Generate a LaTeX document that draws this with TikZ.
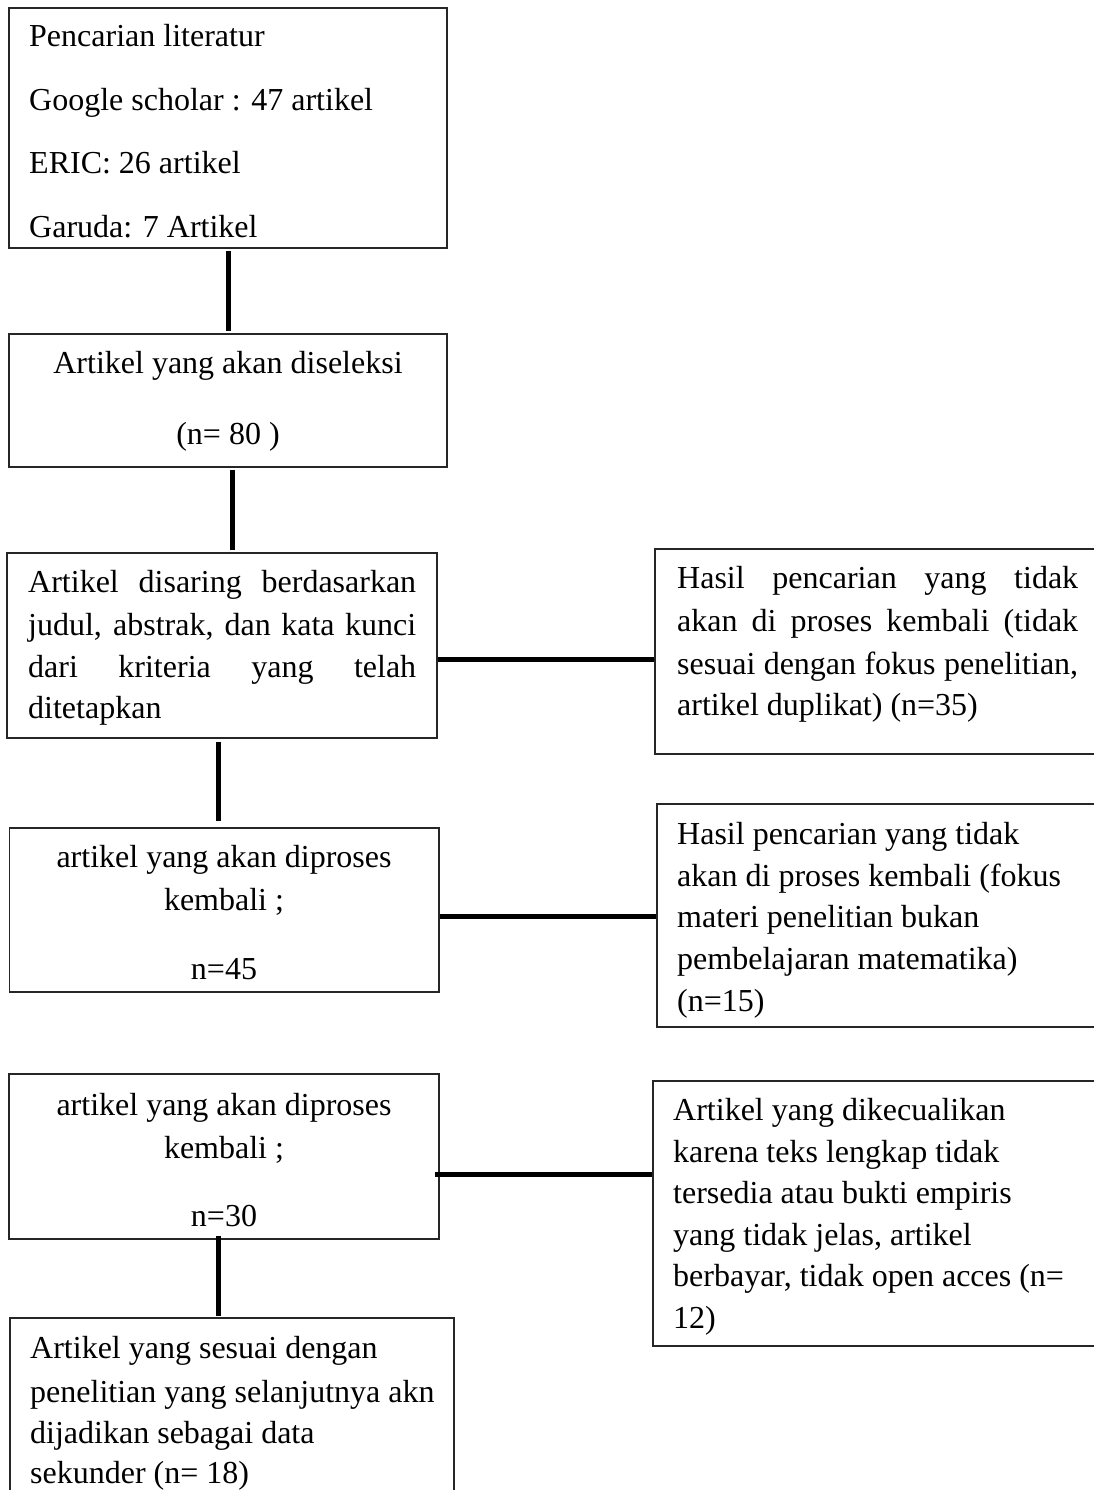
\documentclass[tikz,border=0pt]{standalone}
\usepackage{fontspec}
\setmainfont{Liberation Serif}
\usetikzlibrary{fit,calc}
\begin{document}
\begin{tikzpicture}[x=1pt,y=-1pt,
  box/.style={draw=black!85, line width=1.3pt, inner sep=0pt},
  txt/.style={font=\fontsize{32}{42}\selectfont, inner sep=0pt, anchor=base west, text=black},
  ctxt/.style={font=\fontsize{32}{42}\selectfont, inner sep=0pt, anchor=base, text=black},
  conn/.style={line width=5pt, black}]
\useasboundingbox (0,0) rectangle (1094,1490);
\clip (0,0) rectangle (1094,1490);
\fill[white] (0,0) rectangle (1094,1490);

% boxes
\node[box, fit={(9,8) (447,248)}] (b1) {};
\node[box, fit={(9,334) (447,467)}] (b2) {};
\node[box, fit={(7,553) (437,738)}] (b3) {};
\node[box, fit={(9.5,828) (439,992)}] (b4) {};
\node[box, fit={(9,1074) (439,1239)}] (b5) {};
\node[box, fit={(10,1318) (454,1505)}] (b6) {};
\node[box, fit={(655,549) (1105,754)}] (r1) {};
\node[box, fit={(657,804) (1105,1027)}] (r2) {};
\node[box, fit={(653,1081) (1105,1346)}] (r3) {};

% texts box 1
\node[txt] (b1a) at (29,47) {Pencarian literatur};
\node[txt] (b1b) at (29,111) {Google scholar : 47 artikel};
\node[txt] (b1c) at (29,174) {ERIC: 26 artikel};
\node[txt] (b1d) at (29,237) {Garuda: 7 Artikel};
% box 2
\node[ctxt] (b2a) at (228,373) {Artikel yang akan diseleksi};
\node[ctxt] (b2b) at (228,444) {(n= 80 )};
% box 3
\node[txt] (b3a) at (28,592) {\makebox[388pt][s]{Artikel disaring berdasarkan}};
\node[txt] (b3b) at (28,635) {\makebox[388pt][s]{judul, abstrak, dan kata kunci}};
\node[txt] (b3c) at (28,677) {\makebox[388pt][s]{dari kriteria yang telah}};
\node[txt] (b3d) at (28,718) {ditetapkan};
% box 4
\node[ctxt] (b4a) at (224,867) {artikel yang akan diproses};
\node[ctxt] (b4b) at (224,910) {kembali ;};
\node[ctxt] (b4c) at (224,979) {n=45};
% box 5
\node[ctxt] (b5a) at (224,1115) {artikel yang akan diproses};
\node[ctxt] (b5b) at (224,1158) {kembali ;};
\node[ctxt] (b5c) at (224,1226) {n=30};
% box 6
\node[txt] (b6a) at (30,1358) {Artikel yang sesuai dengan};
\node[txt] (b6b) at (30,1402) {penelitian yang selanjutnya akn};
\node[txt] (b6c) at (30,1443) {dijadikan sebagai data};
\node[txt] (b6d) at (30,1483) {sekunder (n= 18)};
% right 1
\node[txt] (r1a) at (677,588) {\makebox[401pt][s]{Hasil pencarian yang tidak}};
\node[txt] (r1b) at (677,631) {\makebox[401pt][s]{akan di proses kembali (tidak}};
\node[txt] (r1c) at (677,674) {\makebox[401pt][s]{sesuai dengan fokus penelitian,}};
\node[txt] (r1d) at (677,715) {artikel duplikat) (n=35)};
% right 2
\node[txt] (r2a) at (677,844) {Hasil pencarian yang tidak};
\node[txt] (r2b) at (677,886) {akan di proses kembali (fokus};
\node[txt] (r2c) at (677,927) {materi penelitian bukan};
\node[txt] (r2d) at (677,969) {pembelajaran matematika)};
\node[txt] (r2e) at (677,1011) {(n=15)};
% right 3
\node[txt] (r3a) at (673,1120) {Artikel yang dikecualikan};
\node[txt] (r3b) at (673,1162) {karena teks lengkap tidak};
\node[txt] (r3c) at (673,1203) {tersedia atau bukti empiris};
\node[txt] (r3d) at (673,1245) {yang tidak jelas, artikel};
\node[txt] (r3e) at (673,1286) {berbayar, tidak open acces (n=};
\node[txt] (r3f) at (673,1328) {12)};

% reference coordinates for connector positions
\coordinate (x1) at (228,0);
\coordinate (x2) at (232,0);
\coordinate (x3) at (218,0);
\coordinate (y1) at (0,659);
\coordinate (y2) at (0,916);
\coordinate (y3) at (0,1174);

% connectors
\draw[conn] ($(b1.south -| x1)+(0,2)$) -- ($(b2.north -| x1)+(0,-2)$);
\draw[conn] ($(b2.south -| x2)+(0,2)$) -- ($(b3.north -| x2)+(0,-2)$);
\draw[conn] ($(b3.south -| x3)+(0,3)$) -- ($(b4.north -| x3)+(0,-6)$);
\draw[conn] ($(b5.south -| x3)+(0,-4)$) -- ($(b6.north -| x3)+(0,-1)$);
\draw[conn] (b3.east |- y1) -- (r1.west |- y1);
\draw[conn] (b4.east |- y2) -- (r2.west |- y2);
\draw[conn] ($(b5.east |- y3)+(-5,0)$) -- (r3.west |- y3);
\end{tikzpicture}
\end{document}
